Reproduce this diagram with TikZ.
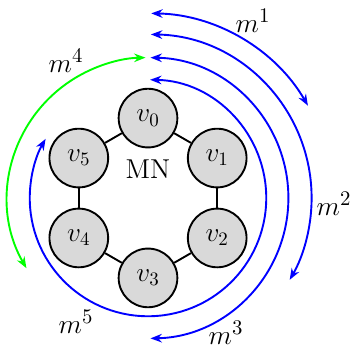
\documentclass[tikz,border=0pt]{standalone}
\usepackage{amsmath}
\usepackage{tikz}
\usetikzlibrary{arrows.meta}

\begin{document}
\begin{tikzpicture}[
    every node/.style={font=\fontsize{14.4}{17}\selectfont},
    vertex/.style={
        circle,
        minimum size=1.087cm,
        inner sep=0pt,
        fill=gray!30,
        draw=black,
        line width=1pt
    },
    edge/.style={line width=1pt},
    msg/.style={line width=1pt, {Stealth[length=6pt,width=4.5pt]}-{Stealth[length=6pt,width=4.5pt]}},
    mlabel/.style={font=\fontsize{15}{18}\selectfont}
]
\useasboundingbox (-2.741,-2.889) rectangle (3.796,3.667);

% Ring
\node (v0) [vertex] at (90:1.48)  {$v_0$};
\node (v1) [vertex] at (30:1.48)  {$v_1$};
\node (v2) [vertex] at (-30:1.48) {$v_2$};
\node (v3) [vertex] at (-90:1.48) {$v_3$};
\node (v4) [vertex] at (210:1.48) {$v_4$};
\node (v5) [vertex] at (150:1.48) {$v_5$};
\node (mn) at (0,0.53) {MN};

\draw[edge] (v0) -- (v1);
\draw[edge] (v1) -- (v2);
\draw[edge] (v2) -- (v3);
\draw[edge] (v3) -- (v4);
\draw[edge] (v4) -- (v5);
\draw[edge] (v5) -- (v0);

% Messages
\coordinate (s1) at (89:3.42);
\coordinate (s2) at (89:3.03);
\coordinate (s3) at (89:2.6);
\coordinate (s4) at (210:2.6);
\coordinate (s5) at (89:2.19);

\draw[msg, blue]  (s1) arc[start angle=89, end angle=30, radius=3.42];
\draw[msg, blue]  (s2) arc[start angle=89, end angle=-30, radius=3.03];
\draw[msg, blue]  (s3) arc[start angle=89, end angle=-89, radius=2.6];
\draw[msg, green] (s4) arc[start angle=210, end angle=91, radius=2.6];
\draw[msg, blue]  (s5) arc[start angle=89, end angle=-210, radius=2.19];

\node (m1) [mlabel] at (1.944,3.278)  {$m^1$};
\node (m2) [mlabel] at (3.444,-0.111) {$m^2$};
\node (m3) [mlabel] at (1.444,-2.5)   {$m^3$};
\node (m4) [mlabel] at (-1.519,2.537) {$m^4$};
\node (m5) [mlabel] at (-1.333,-2.296) {$m^5$};

\end{tikzpicture}
\end{document}
